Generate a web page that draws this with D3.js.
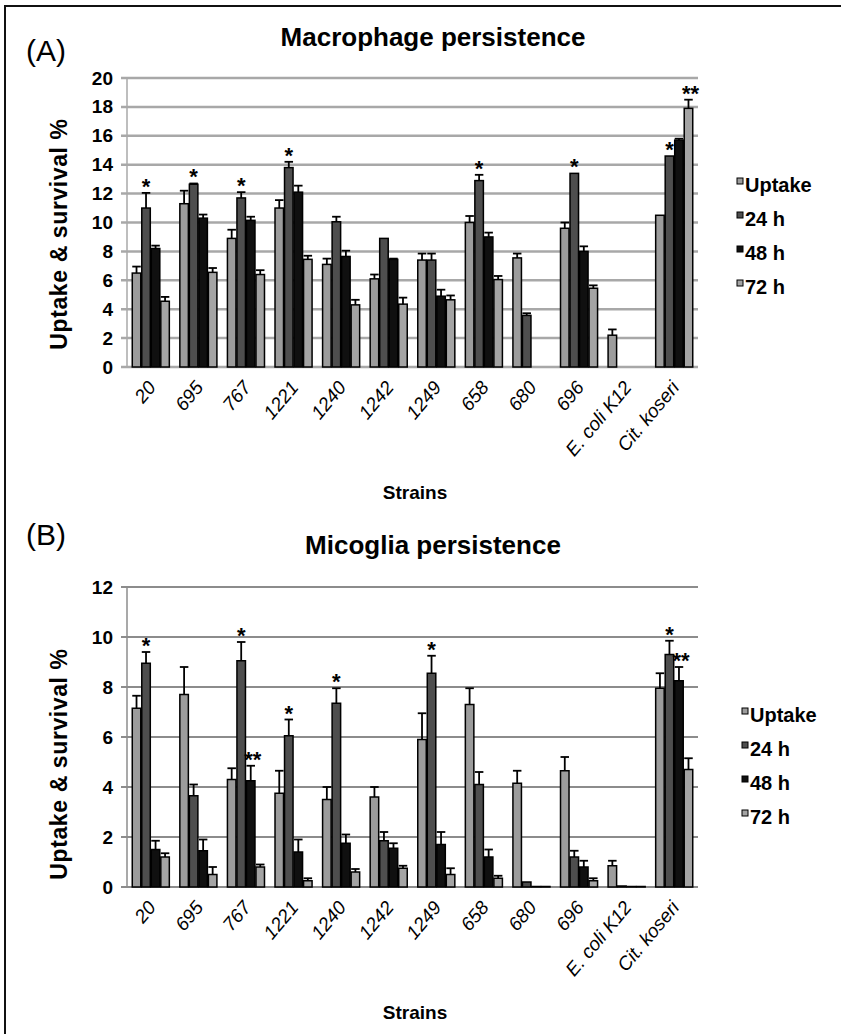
<!DOCTYPE html>
<html>
<head>
<meta charset="utf-8">
<script src="https://cdn.jsdelivr.net/npm/d3@7"></script>
<style>
  body { margin: 0; background: white; }
  svg { display: block; font-family: "Liberation Sans", Arial, sans-serif; }
</style>
</head>
<body>
<script>
// categories and series
const strains = ["20", "695", "767", "1221", "1240", "1242", "1249", "658", "680", "696", "E. coli K12", "Cit. koseri"];
const seriesNames = ["Uptake", "24 h", "48 h", "72 h"];
const seriesColors = ["#9c9c9c", "#4e4e4e", "#101010", "#a4a4a4"];

// (A) macrophage values, % (error = upper error bar length)
const macroUptake = [6.5, 11.3, 8.9, 11.0, 7.1, 6.1, 7.4, 10.0, 7.55, 9.6, 2.2, 10.5];
const macroUptakeErr = [0.45, 0.9, 0.6, 0.55, 0.4, 0.3, 0.45, 0.45, 0.3, 0.4, 0.4, 0];
const macro24 = [11.0, 12.65, 11.7, 13.8, 10.05, 8.9, 7.4, 12.9, 3.57, 13.4, 0, 14.6];
const macro24Err = [1.05, 0.05, 0.4, 0.4, 0.35, 0, 0.45, 0.4, 0.15, 0, 0, 0];
const macro48 = [8.2, 10.3, 10.15, 12.1, 7.65, 7.45, 4.9, 9.0, 0, 8.0, 0, 15.7];
const macro48Err = [0.2, 0.25, 0.25, 0.45, 0.4, 0.05, 0.45, 0.3, 0, 0.35, 0, 0.1];
const macro72 = [4.55, 6.55, 6.4, 7.45, 4.3, 4.35, 4.65, 6.05, 0, 5.45, 0, 17.9];
const macro72Err = [0.3, 0.3, 0.3, 0.25, 0.35, 0.45, 0.3, 0.25, 0, 0.2, 0, 0.6];
const macroTicks = [0, 2, 4, 6, 8, 10, 12, 14, 16, 18, 20];
const macroStars = [
    ["20", "24 h", "*"], ["695", "24 h", "*"], ["767", "24 h", "*"], ["1221", "24 h", "*"],
    ["658", "24 h", "*"], ["696", "24 h", "*"], ["Cit. koseri", "24 h", "*"], ["Cit. koseri", "72 h", "**"]
];

// (B) microglia values, %
const microUptake = [7.15, 7.7, 4.3, 3.75, 3.5, 3.6, 5.9, 7.3, 4.15, 4.65, 0.85, 7.95];
const microUptakeErr = [0.5, 1.1, 0.45, 0.9, 0.5, 0.4, 1.05, 0.65, 0.5, 0.55, 0.2, 0.6];
const micro24 = [8.95, 3.65, 9.05, 6.05, 7.35, 1.85, 8.55, 4.1, 0.2, 1.2, 0.04, 9.3];
const micro24Err = [0.45, 0.45, 0.75, 0.65, 0.6, 0.35, 0.7, 0.5, 0, 0.25, 0, 0.55];
const micro48 = [1.5, 1.45, 4.25, 1.4, 1.75, 1.55, 1.7, 1.2, 0.02, 0.8, 0.02, 8.25];
const micro48Err = [0.35, 0.45, 0.6, 0.5, 0.35, 0.2, 0.5, 0.3, 0, 0.25, 0, 0.55];
const micro72 = [1.2, 0.5, 0.8, 0.25, 0.6, 0.75, 0.5, 0.35, 0.02, 0.25, 0.02, 4.7];
const micro72Err = [0.15, 0.3, 0.1, 0.1, 0.12, 0.1, 0.25, 0.1, 0, 0.1, 0, 0.45];
const microTicks = [0, 2, 4, 6, 8, 10, 12];
const microStars = [
    ["20", "24 h", "*"], ["767", "24 h", "*"], ["767", "48 h", "**"], ["1221", "24 h", "*"],
    ["1240", "24 h", "*"], ["1249", "24 h", "*"], ["Cit. koseri", "24 h", "*"], ["Cit. koseri", "48 h", "**"]
];

const W = 841, H = 1034;
const svg = d3.select("body").append("svg").attr("width", W).attr("height", H);

// frame (left and top edges only)
svg.append("path").attr("d", `M5,${H} V6 H${W}`).attr("fill", "none").attr("stroke", "#111").attr("stroke-width", 2);

function drawPanel(p) {
    const x0 = d3.scaleBand().domain(strains).range([127, 698]).paddingInner(0.2).paddingOuter(0.1);
    const x1 = d3.scaleBand().domain(seriesNames).range([0, x0.bandwidth()]);
    const y = d3.scaleLinear().domain([0, d3.max(p.ticks)]).range([p.y0, p.y1]);

    const rows = strains.map((s, i) => ({
        strain: s,
        vals: seriesNames.map((k, j) => ({ key: k, v: p.values[j][i], e: p.errors[j][i], color: seriesColors[j] }))
    }));

    svg.append("text").attr("x", 26).attr("y", p.letterY).attr("font-size", 30).text(p.letter);
    svg.append("text").attr("x", 433).attr("y", p.titleY).attr("text-anchor", "middle")
        .attr("font-size", 26).attr("font-weight", "bold").text(p.title);

    // gridlines + axis
    const g = svg.append("g");
    g.selectAll("line.grid").data(p.ticks).join("line")
        .attr("x1", 121).attr("x2", 698)
        .attr("y1", d => y(d)).attr("y2", d => y(d))
        .attr("stroke", p.gridColor).attr("stroke-width", p.gridWidth);
    g.append("line").attr("x1", 127).attr("x2", 127).attr("y1", y(0)).attr("y2", y(d3.max(p.ticks)))
        .attr("stroke", p.gridColor).attr("stroke-width", 1.5);
    g.selectAll("text.tick").data(p.ticks).join("text")
        .attr("x", 113).attr("y", d => y(d) + 6.5).attr("text-anchor", "end")
        .attr("font-size", 19).attr("font-weight", "bold").text(d => d);

    // bars
    const grp = svg.append("g").selectAll("g").data(rows).join("g")
        .attr("transform", d => `translate(${x0(d.strain)},0)`);
    grp.selectAll("rect").data(d => d.vals.filter(v => v.v > 0)).join("rect")
        .attr("x", d => x1(d.key) + 0.5)
        .attr("y", d => y(d.v))
        .attr("width", x1.bandwidth() - 1)
        .attr("height", d => y(0) - y(d.v))
        .attr("fill", d => d.color)
        .attr("stroke", "#000").attr("stroke-width", 1.5);

    // error bars (upper only)
    const eb = grp.selectAll("g.err").data(d => d.vals.filter(v => v.e > 0)).join("g").attr("class", "err")
        .attr("stroke", "#000").attr("stroke-width", 1.8);
    eb.append("line")
        .attr("x1", d => x1(d.key) + x1.bandwidth() / 2).attr("x2", d => x1(d.key) + x1.bandwidth() / 2)
        .attr("y1", d => y(d.v)).attr("y2", d => y(d.v + d.e));
    eb.append("line")
        .attr("x1", d => x1(d.key) + 0.5).attr("x2", d => x1(d.key) + x1.bandwidth() - 0.5)
        .attr("y1", d => y(d.v + d.e)).attr("y2", d => y(d.v + d.e));

    // significance stars
    svg.append("g").selectAll("text").data(p.stars).join("text")
        .attr("x", d => x0(d[0]) + x1(d[1]) + x1.bandwidth() / 2 + (d[2] === "**" ? 2 : 0))
        .attr("y", d => {
            const i = strains.indexOf(d[0]), j = seriesNames.indexOf(d[1]);
            return y(p.values[j][i] + p.errors[j][i]) + 1;
        })
        .attr("text-anchor", "middle").attr("font-size", 22).attr("font-weight", "bold")
        .text(d => d[2]);

    // x labels
    svg.append("g").selectAll("text").data(strains).join("text")
        .attr("transform", d => `translate(${x0(d) + x0.bandwidth() / 2 + 6},${p.y0 + 21}) rotate(-50)`)
        .attr("text-anchor", "end").attr("font-size", 19).attr("font-style", "italic")
        .text(d => d);

    svg.append("text").attr("x", 415).attr("y", p.xTitleY).attr("text-anchor", "middle")
        .attr("font-size", 19).attr("font-weight", "bold").text("Strains");

    svg.append("text").attr("transform", `translate(67,${p.yTitleC}) rotate(-90)`)
        .attr("text-anchor", "middle").attr("font-size", 23).attr("font-weight", "bold")
        .attr("letter-spacing", 0.6)
        .text("Uptake & survival %");

    // legend
    const lg = svg.append("g").selectAll("g").data(seriesNames).join("g")
        .attr("transform", (d, i) => `translate(${p.legX},${p.legY + i * p.legStep})`);
    lg.append("rect").attr("x", 0).attr("y", -14).attr("width", 6).attr("height", 6)
        .attr("fill", (d, i) => seriesColors[i]).attr("stroke", "#000").attr("stroke-width", 1);
    lg.append("text").attr("x", 8).attr("y", 0).attr("font-size", 20).attr("font-weight", "bold").text(d => d);
}

drawPanel({
    letter: "(A)", letterY: 61, title: "Macrophage persistence", titleY: 46,
    ticks: macroTicks, y0: 367, y1: 78,
    values: [macroUptake, macro24, macro48, macro72],
    errors: [macroUptakeErr, macro24Err, macro48Err, macro72Err],
    stars: macroStars, gridColor: "#a8a8a8", gridWidth: 2.5,
    xTitleY: 499, yTitleC: 234, legX: 737, legY: 192, legStep: 34
});

drawPanel({
    letter: "(B)", letterY: 545, title: "Micoglia persistence", titleY: 554,
    ticks: microTicks, y0: 887, y1: 587,
    values: [microUptake, micro24, micro48, micro72],
    errors: [microUptakeErr, micro24Err, micro48Err, micro72Err],
    stars: microStars, gridColor: "#8c8c8c", gridWidth: 1.8,
    xTitleY: 1019, yTitleC: 764, legX: 742, legY: 722, legStep: 34
});
</script>
</body>
</html>
